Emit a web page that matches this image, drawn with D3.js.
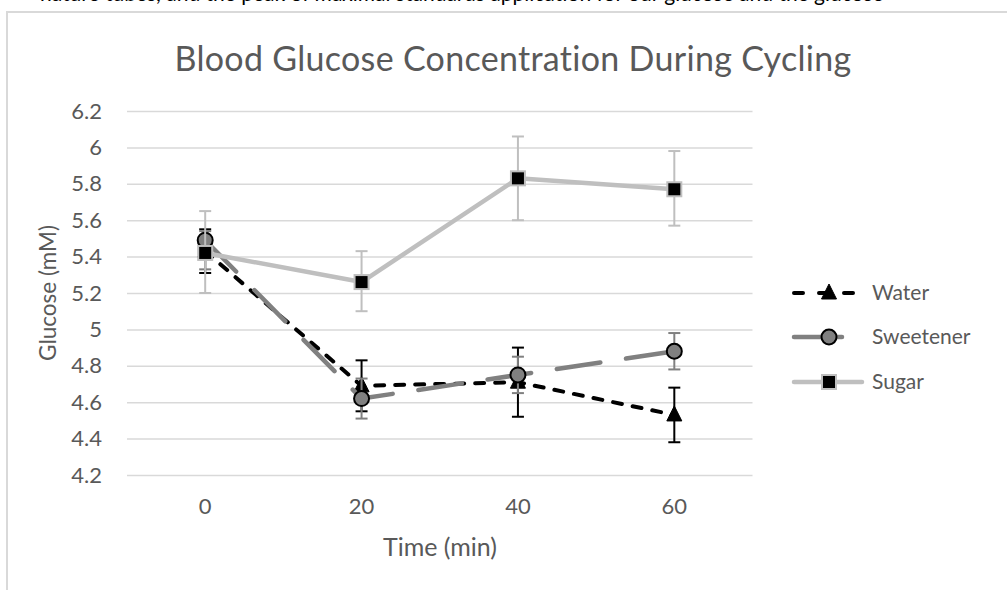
<!DOCTYPE html>
<html>
<head>
<meta charset="utf-8">
<script src="https://cdn.jsdelivr.net/npm/d3@7/dist/d3.min.js"></script>
<style>
  html, body { margin: 0; padding: 0; background: #fff; }
  svg { display: block; }
</style>
</head>
<body>
<svg id="chart" width="1007" height="590"></svg>
<script>
// ---- data ----
const chartTitle = "Blood Glucose Concentration During Cycling";
const xTitle = "Time (min)";
const yTitle = "Glucose (mM)";
const categories = ["0", "20", "40", "60"];
const yTicks = [4.2, 4.4, 4.6, 4.8, 5, 5.2, 5.4, 5.6, 5.8, 6, 6.2];
const seriesNames = ["Water", "Sweetener", "Sugar"];
const waterValues = [5.43, 4.69, 4.71, 4.53];
const waterErrUp = [0.12, 0.14, 0.19, 0.15];
const waterErrDown = [0.12, 0.14, 0.19, 0.15];
const sweetenerValues = [5.49, 4.62, 4.75, 4.88];
const sweetenerErrUp = [0.05, 0.11, 0.10, 0.10];
const sweetenerErrDown = [0.16, 0.11, 0.10, 0.10];
const sugarValues = [5.42, 5.26, 5.83, 5.77];
const sugarErrUp = [0.23, 0.17, 0.23, 0.21];
const sugarErrDown = [0.22, 0.16, 0.23, 0.20];
const headerText = "nature tubes, and the peak of maximal standards application for our glucose and the glucose";

// ---- layout ----
const svg = d3.select("#chart");
const font = "Lato, 'Open Sans', sans-serif";
const textColor = "#595959";

// clipped header text from surrounding document (cut off at top edge, as in the source)
svg.append("text")
  .attr("x", 40).attr("y", 0.5)
  .attr("font-family", font).attr("font-size", 21)
  .attr("fill", "#000")
  .text(headerText);

// chart frame
svg.append("rect")
  .attr("x", 7).attr("y", 12)
  .attr("width", 1020).attr("height", 620)
  .attr("fill", "#fff")
  .attr("stroke", "#d9d9d9").attr("stroke-width", 2);

const x = d3.scaleBand().domain(categories).range([127, 752.5]);
const y = d3.scaleLinear().domain([4.2, 6.2]).range([475, 111]);
const cx = c => x(c) + x.bandwidth() / 2;

// gridlines
const yAxis = d3.axisLeft(y).tickValues(yTicks)
  .tickSize(-(752.5 - 127)).tickPadding(25)
  .tickFormat(d => d3.format("~g")(d));
const gy = svg.append("g").attr("transform", "translate(127,0)").call(yAxis);
gy.select(".domain").remove();
gy.selectAll(".tick line").attr("stroke", "#d9d9d9").attr("stroke-width", 1.5);
gy.selectAll(".tick text").attr("font-family", font).attr("font-size", 22)
  .attr("fill", textColor);

// x axis labels (no visible axis line)
const xAxis = d3.axisBottom(x).tickSize(0).tickPadding(23);
const gx = svg.append("g").attr("transform", "translate(0,475)").call(xAxis);
gx.select(".domain").remove();
gx.selectAll(".tick text").attr("font-family", font).attr("font-size", 22)
  .attr("fill", textColor);

// titles
svg.append("text").attr("x", 513).attr("y", 71).attr("text-anchor", "middle")
  .attr("font-family", font).attr("font-size", 34).attr("fill", textColor)
  .attr("letter-spacing", 0.3)
  .text(chartTitle);
svg.append("text").attr("x", 440).attr("y", 556).attr("text-anchor", "middle")
  .attr("font-family", font).attr("font-size", 25).attr("fill", textColor)
  .text(xTitle);
svg.append("text").attr("transform", "translate(56,293) rotate(-90)")
  .attr("text-anchor", "middle")
  .attr("font-family", font).attr("font-size", 22.5).attr("fill", textColor)
  .text(yTitle);

// series definitions
const series = [
  { name: seriesNames[0], values: waterValues, up: waterErrUp, down: waterErrDown,
    color: "#000000", width: 4, dash: "9,11", marker: "triangle", fill: "#000", mstroke: "#000", errColor: "#000" },
  { name: seriesNames[1], values: sweetenerValues, up: sweetenerErrUp, down: sweetenerErrDown,
    color: "#808080", width: 4.5, dash: "44,26", marker: "circle", fill: "#808080", mstroke: "#000", errColor: "#808080" },
  { name: seriesNames[2], values: sugarValues, up: sugarErrUp, down: sugarErrDown,
    color: "#bfbfbf", width: 4.5, dash: null, marker: "square", fill: "#000", mstroke: "#bfbfbf", errColor: "#bfbfbf" }
];

function drawMarker(g, type, px, py, s) {
  if (type === "triangle") {
    g.append("path")
      .attr("d", `M${px},${py - 9} L${px + 7.5},${py + 6} L${px - 7.5},${py + 6} Z`)
      .attr("fill", s.fill).attr("stroke", s.mstroke).attr("stroke-width", 1);
  } else if (type === "circle") {
    g.append("circle").attr("cx", px).attr("cy", py).attr("r", 7.5)
      .attr("fill", s.fill).attr("stroke", s.mstroke).attr("stroke-width", 2);
  } else {
    g.append("rect").attr("x", px - 7).attr("y", py - 7)
      .attr("width", 14).attr("height", 14)
      .attr("fill", s.fill).attr("stroke", s.mstroke).attr("stroke-width", 2);
  }
}

const line = d3.line().x((d, i) => cx(categories[i])).y(d => y(d));

series.forEach(s => {
  const g = svg.append("g");
  // error bars
  s.values.forEach((v, i) => {
    const px = cx(categories[i]);
    const top = y(v + s.up[i]), bot = y(v - s.down[i]);
    g.append("line").attr("x1", px).attr("x2", px).attr("y1", top).attr("y2", bot)
      .attr("stroke", s.errColor).attr("stroke-width", 2);
    [top, bot].forEach(yy => g.append("line")
      .attr("x1", px - 6).attr("x2", px + 6).attr("y1", yy).attr("y2", yy)
      .attr("stroke", s.errColor).attr("stroke-width", 2));
  });
  g.append("path").datum(s.values).attr("d", line)
    .attr("fill", "none").attr("stroke", s.color).attr("stroke-width", s.width)
    .attr("stroke-linecap", "round").attr("stroke-linejoin", "round")
    .attr("stroke-dasharray", s.dash);
  s.values.forEach((v, i) => drawMarker(g, s.marker, cx(categories[i]), y(v), s));
});

// legend
const legendY = [293, 337, 382];
series.forEach((s, i) => {
  const g = svg.append("g");
  const ly = legendY[i];
  g.append("line").attr("x1", 794).attr("x2", s.marker === "circle" ? 842 : 862)
    .attr("y1", ly).attr("y2", ly)
    .attr("stroke", s.color).attr("stroke-width", s.width)
    .attr("stroke-linecap", "round")
    .attr("stroke-dasharray", s.marker === "triangle" ? "9,16" : null);
  drawMarker(g, s.marker, 829, ly, s);
  g.append("text").attr("x", 872).attr("y", ly + 7)
    .attr("font-family", font).attr("font-size", 21).attr("fill", textColor)
    .text(s.name);
});
</script>
</body>
</html>
